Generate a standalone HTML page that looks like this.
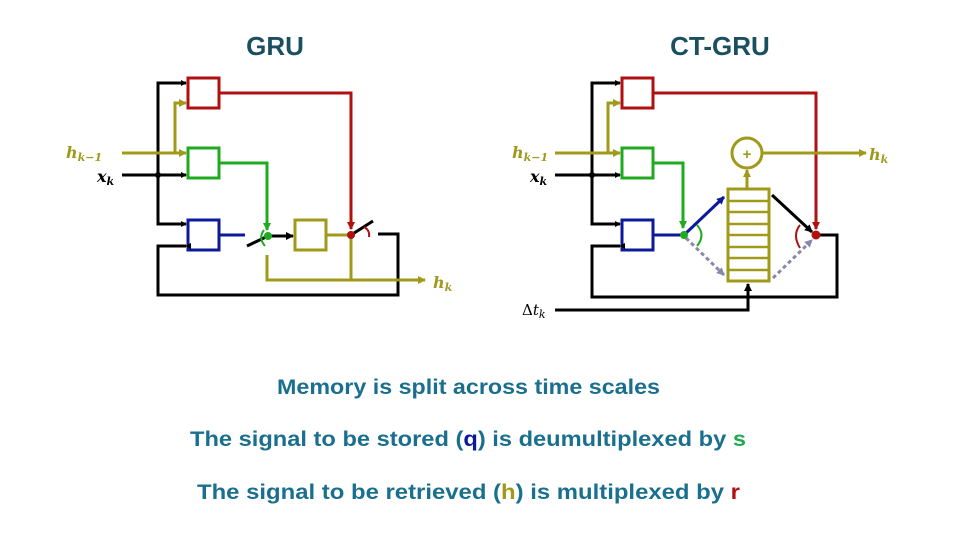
<!DOCTYPE html>
<html><head><meta charset="utf-8"><style>html,body{margin:0;padding:0;background:#fff}svg{display:block}</style></head><body>
<svg width="960" height="540" viewBox="0 0 960 540" xmlns="http://www.w3.org/2000/svg" font-family="Liberation Sans, sans-serif">
<defs>
<marker id="ak" markerWidth="6" markerHeight="6" refX="5" refY="3" orient="auto" markerUnits="userSpaceOnUse"><path d="M0,0L6,3L0,6z" fill="#000"/></marker>
<marker id="ao" markerWidth="8" markerHeight="8" refX="7" refY="4" orient="auto" markerUnits="userSpaceOnUse"><path d="M0,0L8,4L0,8z" fill="#a09a1a"/></marker>
<marker id="ar" markerWidth="8" markerHeight="8" refX="7" refY="4" orient="auto" markerUnits="userSpaceOnUse"><path d="M0,0L8,4L0,8z" fill="#b01010"/></marker>
<marker id="ag" markerWidth="8" markerHeight="8" refX="7" refY="4" orient="auto" markerUnits="userSpaceOnUse"><path d="M0,0L8,4L0,8z" fill="#1faa1f"/></marker>
<marker id="ab" markerWidth="8" markerHeight="8" refX="7" refY="4" orient="auto" markerUnits="userSpaceOnUse"><path d="M0,0L8,4L0,8z" fill="#0a1a9a"/></marker>
<marker id="ay" markerWidth="8" markerHeight="8" refX="7" refY="4" orient="auto" markerUnits="userSpaceOnUse"><path d="M0,0L8,4L0,8z" fill="#8888aa"/></marker>
<marker id="akb" markerWidth="8" markerHeight="8" refX="7" refY="4" orient="auto" markerUnits="userSpaceOnUse"><path d="M0,0L8,4L0,8z" fill="#000"/></marker>
</defs>
<g font-weight="bold" fill="#1a4f5f" font-size="26">
<text x="275" y="55" text-anchor="middle">GRU</text>
<text x="720" y="55" text-anchor="middle">CT-GRU</text>
</g>
<g fill="none" stroke-width="3">
<!-- LEFT GRU -->
<rect x="188" y="78" width="31" height="30" stroke="#b01010"/>
<rect x="188" y="148" width="31" height="30" stroke="#1faa1f"/>
<rect x="188" y="220" width="31" height="30" stroke="#0a1a9a"/>
<rect x="295" y="220" width="31" height="30" stroke="#a09a1a"/>
<path d="M186,83H158V224H186" stroke="#000" marker-end="url(#ak)"/>
<path d="M158,83H186" stroke="#000" marker-end="url(#ak)"/>
<path d="M122,175H186" stroke="#000" marker-end="url(#ak)"/>
<path d="M122,153H186" stroke="#a09a1a" marker-end="url(#ao)"/>
<path d="M175,153V103H186" stroke="#a09a1a" marker-end="url(#ao)"/>
<path d="M186,246H158V295H398V234H378" stroke="#000" marker-start="url(#ak)"/>
<path d="M219,93H351V229" stroke="#b01010" marker-end="url(#ar)"/>
<path d="M219,163H267V230" stroke="#1faa1f" marker-end="url(#ag)"/>
<path d="M219,235H245" stroke="#0a1a9a"/>
<path d="M247,246L268,236" stroke="#000"/>
<path d="M268,236H293" stroke="#000" marker-end="url(#akb)"/>
<path d="M264,230Q258,238 265,246" stroke="#1faa1f" stroke-width="2"/>
<path d="M351,235L373,221" stroke="#000"/>
<path d="M364,227Q370,230 369,237" stroke="#b01010" stroke-width="2"/>
<path d="M326,235H351V280" stroke="#a09a1a"/>
<path d="M267,255V280H425" stroke="#a09a1a" marker-end="url(#ao)"/>
<!-- RIGHT CT-GRU -->
<rect x="622" y="78" width="31" height="30" stroke="#b01010"/>
<rect x="622" y="148" width="31" height="30" stroke="#1faa1f"/>
<rect x="622" y="220" width="31" height="30" stroke="#0a1a9a"/>
<path d="M620,83H592V224H620" stroke="#000" marker-end="url(#ak)"/>
<path d="M592,83H620" stroke="#000" marker-end="url(#ak)"/>
<path d="M555,175H620" stroke="#000" marker-end="url(#ak)"/>
<path d="M555,153H620" stroke="#a09a1a" marker-end="url(#ao)"/>
<path d="M608,153V103H620" stroke="#a09a1a" marker-end="url(#ao)"/>
<path d="M620,246H592V297H837V235H816" stroke="#000" marker-start="url(#ak)"/>
<path d="M653,93H816V229" stroke="#b01010" marker-end="url(#ar)"/>
<path d="M653,163H683V228" stroke="#1faa1f" marker-end="url(#ag)"/>
<path d="M653,235H684" stroke="#0a1a9a"/>
<path d="M684,235L724,197" stroke="#0a1a9a" marker-end="url(#ab)"/>
<path d="M686,238L724,275" stroke="#8888aa" stroke-dasharray="4,3" marker-end="url(#ay)"/>
<path d="M697,225Q706,235 697,246" stroke="#1faa1f" stroke-width="2"/>
<rect x="728" y="189" width="41" height="92" stroke="#a09a1a"/>
<path d="M728,201H769M728,212H769M728,224H769M728,235H769M728,247H769M728,258H769M728,270H769" stroke="#a09a1a" stroke-width="2.5"/>
<circle cx="747" cy="153" r="15" stroke="#a09a1a"/>
<path d="M747,189V170" stroke="#a09a1a" marker-end="url(#ao)"/>
<path d="M762,153H866" stroke="#a09a1a" marker-end="url(#ao)"/>
<path d="M772,195L812,232" stroke="#000" marker-end="url(#akb)"/>
<path d="M773,278L812,240" stroke="#8888aa" stroke-dasharray="4,3" marker-end="url(#ay)"/>
<path d="M800,225Q792,235 800,248" stroke="#b01010" stroke-width="2"/>
<path d="M555,310H748V284" stroke="#000" marker-end="url(#akb)"/>
</g>
<circle cx="268" cy="236" r="4" fill="#1faa1f"/>
<circle cx="351" cy="235" r="4" fill="#b01010"/>
<circle cx="158" cy="175" r="3" fill="#000"/>
<circle cx="684" cy="235" r="4" fill="#1faa1f"/>
<circle cx="816" cy="235" r="4.5" fill="#b01010"/>
<circle cx="592" cy="175" r="3" fill="#000"/>
<text x="747" y="159" text-anchor="middle" font-size="15" font-weight="bold" fill="#a09a1a">+</text>
<g font-family="DejaVu Serif, serif" font-weight="bold" font-style="italic" font-size="16">
<text x="66" y="158" fill="#a09a1a">h<tspan font-size="11" dy="3">k−1</tspan></text>
<text x="97" y="182" fill="#000">x<tspan font-size="11" dy="3">k</tspan></text>
<text x="433" y="288" fill="#a09a1a">h<tspan font-size="11" dy="3">k</tspan></text>
<text x="512" y="158" fill="#a09a1a">h<tspan font-size="11" dy="3">k−1</tspan></text>
<text x="530" y="182" fill="#000">x<tspan font-size="11" dy="3">k</tspan></text>
<text x="869" y="160" fill="#a09a1a">h<tspan font-size="11" dy="3">k</tspan></text>
</g>
<text x="522" y="315" font-family="DejaVu Serif, serif" font-size="15" fill="#000">Δ<tspan font-style="italic">t</tspan><tspan font-size="11" dy="3" font-style="italic">k</tspan></text>
<g font-weight="bold" fill="#1a6f8f" font-size="21">
<text x="277" y="394" textLength="383" lengthAdjust="spacingAndGlyphs">Memory is split across time scales</text>
<text x="190" y="446" textLength="556" lengthAdjust="spacingAndGlyphs">The signal to be stored (<tspan fill="#0a1a9a">q</tspan>) is deumultiplexed by <tspan fill="#1faa4f">s</tspan></text>
<text x="197" y="499" textLength="543" lengthAdjust="spacingAndGlyphs">The signal to be retrieved (<tspan fill="#a09a1a">h</tspan>) is multiplexed by <tspan fill="#b01010">r</tspan></text>
</g>
</svg>
</body></html>
